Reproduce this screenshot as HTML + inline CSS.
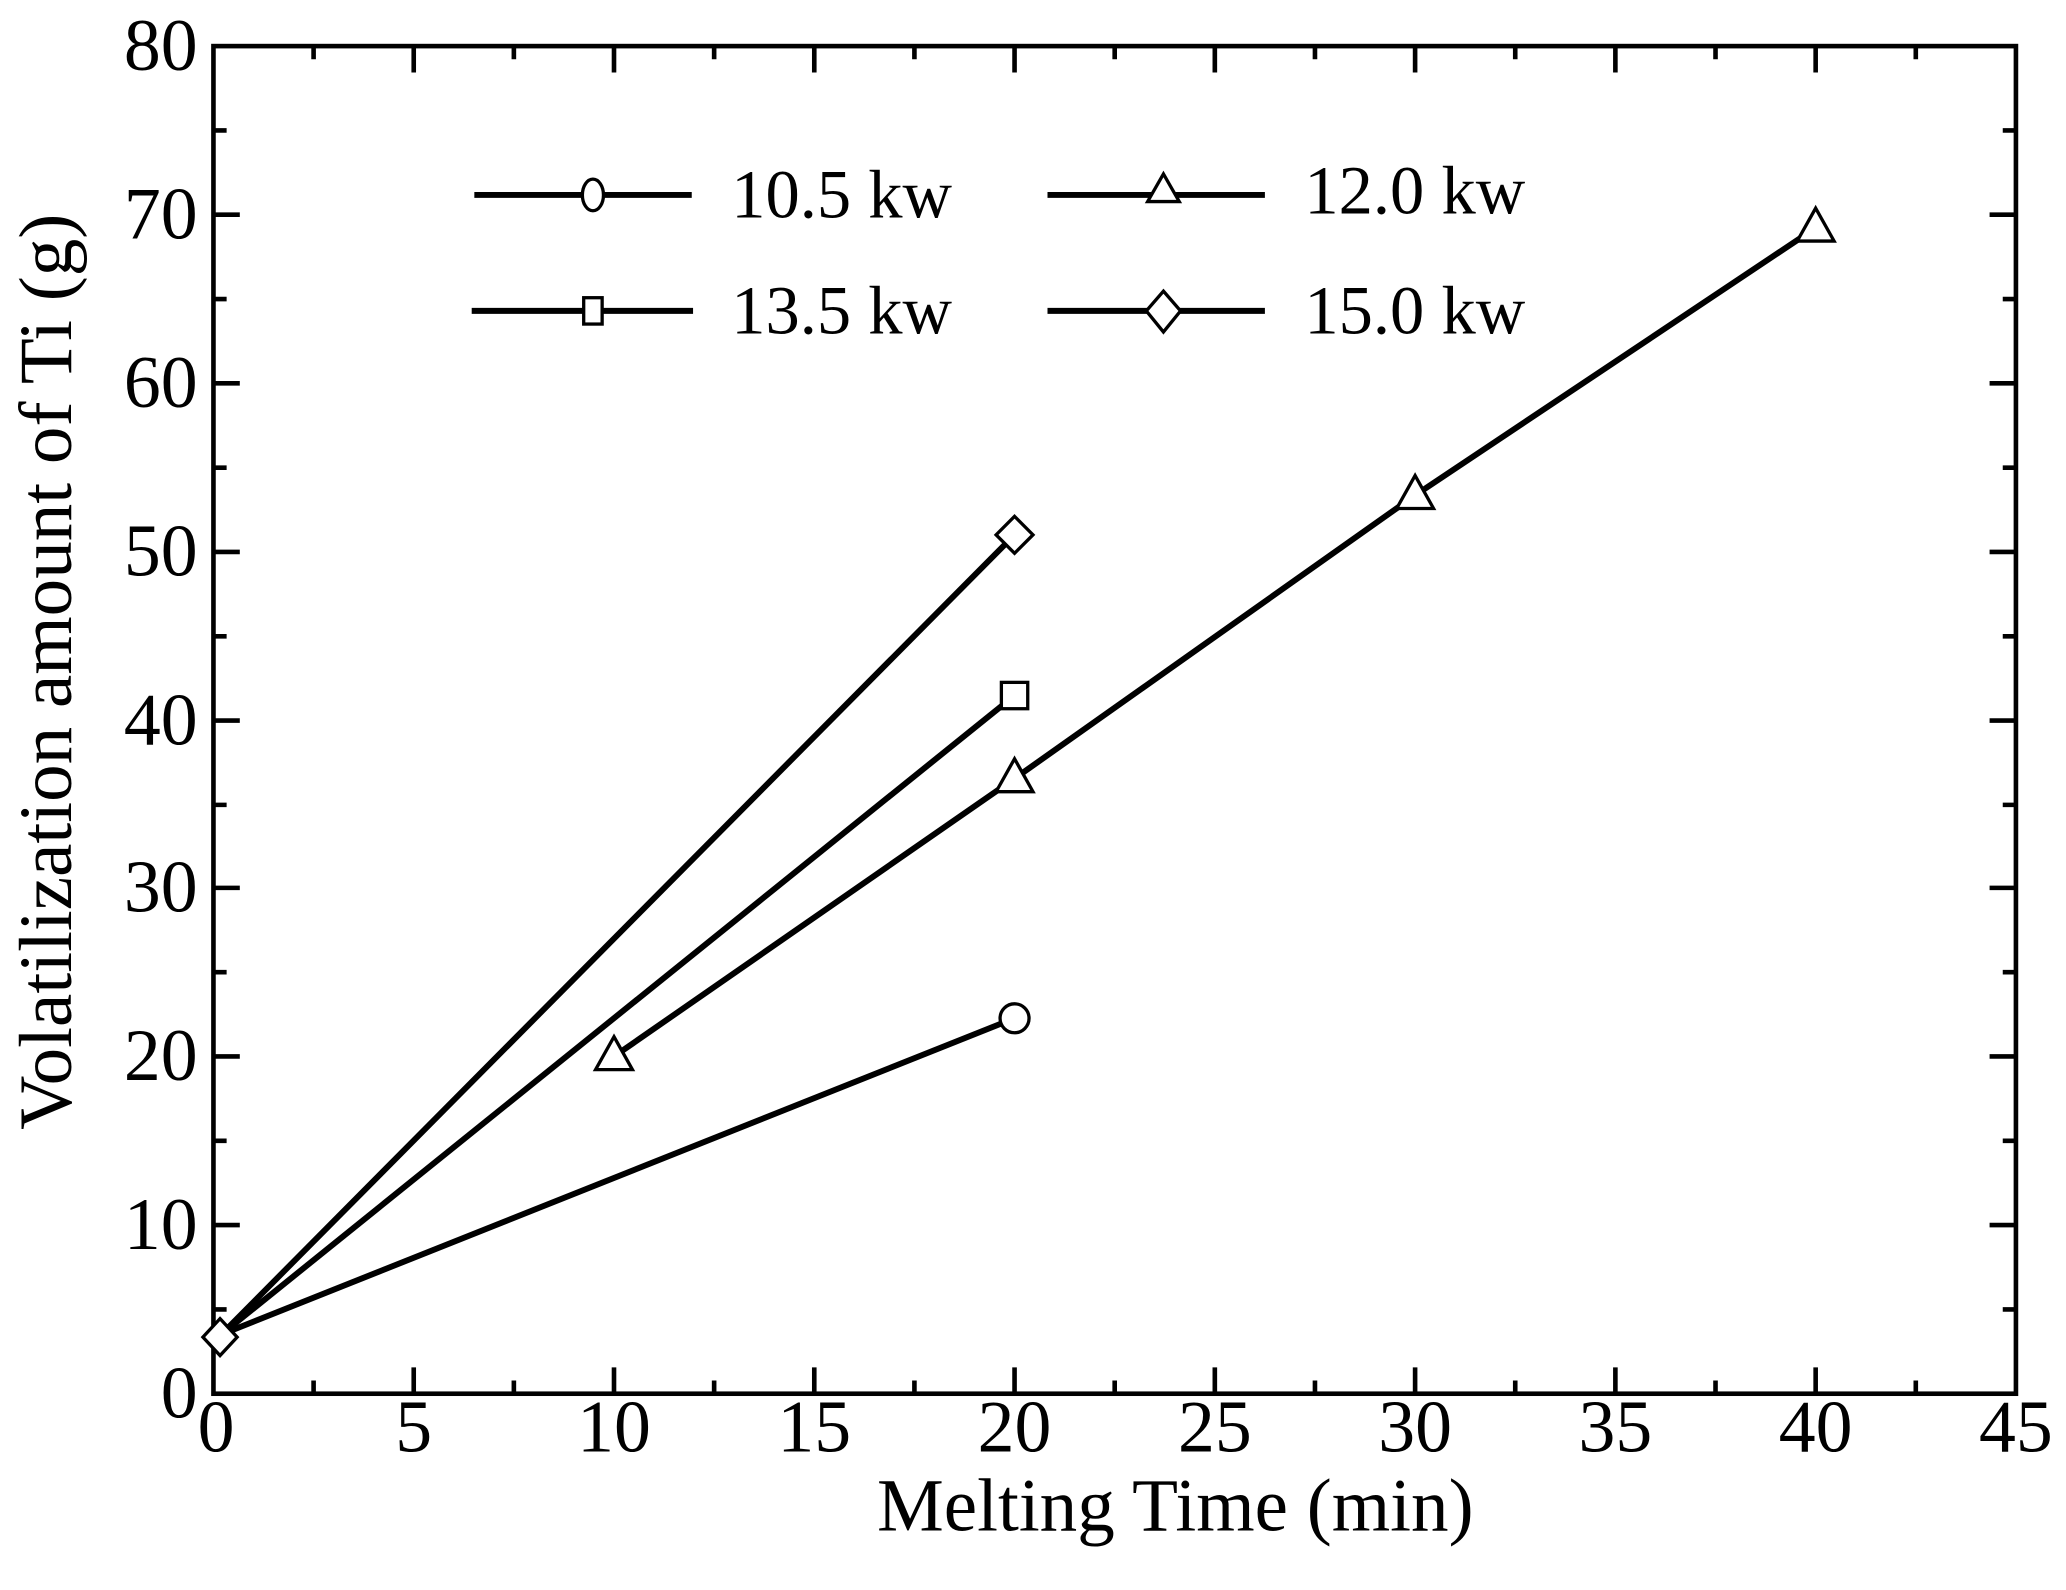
<!DOCTYPE html>
<html><head><style>html,body{margin:0;padding:0;background:#fff}svg{display:block}</style></head>
<body>
<svg width="2066" height="1590" viewBox="0 0 1568 1207" preserveAspectRatio="none" xmlns="http://www.w3.org/2000/svg" font-family="Liberation Serif, serif">
<g stroke="#000" stroke-width="3.5" fill="none">
<rect x="162" y="35" width="1368" height="1023"/>
<path d="M314,1058v-20M466,1058v-20M618,1058v-20M770,1058v-20M922,1058v-20M1074,1058v-20M1226,1058v-20M1378,1058v-20
M238,1058v-10M390,1058v-10M542,1058v-10M694,1058v-10M846,1058v-10M998,1058v-10M1150,1058v-10M1302,1058v-10M1454,1058v-10
M314,35v20M466,35v20M618,35v20M770,35v20M922,35v20M1074,35v20M1226,35v20M1378,35v20
M238,35v10M390,35v10M542,35v10M694,35v10M846,35v10M998,35v10M1150,35v10M1302,35v10M1454,35v10"/>
<path d="M162,930h20M162,802h20M162,674h20M162,547h20M162,419h20M162,291h20M162,163h20
M162,994h10M162,866h10M162,738h10M162,611h10M162,483h10M162,355h10M162,227h10M162,99h10
M1530,930h-20M1530,802h-20M1530,674h-20M1530,547h-20M1530,419h-20M1530,291h-20M1530,163h-20
M1530,994h-10M1530,866h-10M1530,738h-10M1530,611h-10M1530,483h-10M1530,355h-10M1530,227h-10M1530,99h-10"/>
</g>
<g stroke="#000" stroke-width="4.5" fill="none">
<polyline points="168,1013 770,773"/>
<polyline points="466,802 770,591 1074,376 1378,173"/>
<polyline points="168,1013 770,528"/>
<polyline points="168,1013 770,406"/>
</g>
<g stroke="#000" stroke-width="2.5" fill="#fff">
<circle cx="770" cy="773" r="11"/>
<polygon points="466,787 480,812 452,812"/><polygon points="770,576 784,601 756,601"/><polygon points="1074,361 1088,386 1060,386"/><polygon points="1378,158 1392,183 1364,183"/>
<rect x="760" y="518" width="20" height="20"/>
<polygon points="770,392 784,406 770,420 756,406"/>
<polygon points="167,1001 180,1015 167,1029 154,1015"/>
</g>
<g stroke="#000" stroke-width="4.5"><path d="M360,148h165M795,148h165M358,236h168M795,236h165"/></g>
<g stroke="#000" stroke-width="2.5" fill="#fff">
<ellipse cx="450" cy="148" rx="8" ry="12"/>
<polygon points="883,132 895,153 871,153"/>
<rect x="443" y="226" width="14" height="20"/>
<polygon points="883,221 896,236 883,252 870,236"/>
</g>
<g font-size="52" fill="#000">
<text x="555" y="165">10.5 kw</text><text x="990" y="162">12.0 kw</text>
<text x="555" y="253">13.5 kw</text><text x="990" y="253">15.0 kw</text>
</g>
<g font-size="56" fill="#000" text-anchor="middle">
<text x="164" y="1102">0</text><text x="314" y="1102">5</text><text x="466" y="1102">10</text><text x="618" y="1102">15</text><text x="770" y="1102">20</text><text x="922" y="1102">25</text><text x="1074" y="1102">30</text><text x="1226" y="1102">35</text><text x="1378" y="1102">40</text><text x="1530" y="1102">45</text>
</g>
<g font-size="56" fill="#000" text-anchor="end">
<text x="150" y="1076">0</text><text x="150" y="948">10</text><text x="150" y="820">20</text><text x="150" y="692">30</text><text x="150" y="565">40</text><text x="150" y="437">50</text><text x="150" y="309">60</text><text x="150" y="181">70</text><text x="150" y="53">80</text>
</g>
<text x="892" y="1162" font-size="57" text-anchor="middle">Melting Time (min)</text>
<text transform="translate(54,510) rotate(-90)" font-size="57" text-anchor="middle">Volatilization amount of Ti (g)</text>
</svg>
</body></html>
